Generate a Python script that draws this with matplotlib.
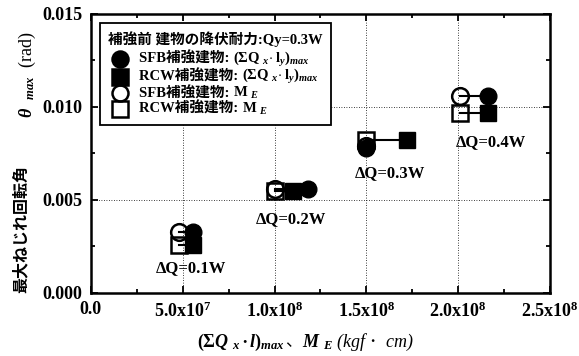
import numpy as np
import matplotlib
matplotlib.use('Agg')
import matplotlib.pyplot as plt
from matplotlib.ticker import MultipleLocator, FixedLocator
from matplotlib.offsetbox import AnchoredOffsetbox, VPacker, HPacker, TextArea, DrawingArea
from matplotlib.lines import Line2D

plt.rcParams['mathtext.fontset'] = 'custom'
plt.rcParams['mathtext.rm'] = 'Liberation Serif:bold'
plt.rcParams['mathtext.it'] = 'Liberation Serif:italic:bold'
plt.rcParams['mathtext.bf'] = 'Liberation Serif:bold'

FAM = ['Liberation Serif', 'Noto Sans CJK JP']
SERIF = ['Liberation Serif']

# data
dq_labels = ['ΔQ=0.1W', 'ΔQ=0.2W', 'ΔQ=0.3W', 'ΔQ=0.4W']
sfb_max_x = [5.56e7, 1.18e8, 1.50e8, 2.16e8]
sfb_max_y = [0.0033, 0.0056, 0.0078, 0.0106]
rcw_max_x = [5.56e7, 1.10e8, 1.72e8, 2.16e8]
rcw_max_y = [0.0026, 0.0055, 0.0082, 0.0097]
sfb_me_x = [4.80e7, 1.00e8, 1.50e8, 2.01e8]
sfb_me_y = [0.0033, 0.0056, 0.0079, 0.0106]
rcw_me_x = [4.80e7, 1.00e8, 1.50e8, 2.01e8]
rcw_me_y = [0.0026, 0.0055, 0.0082, 0.0097]
dq_label_x = [5.45e7, 1.09e8, 1.63e8, 2.18e8]
dq_label_y = [0.00134, 0.00398, 0.00645, 0.00812]

x_ticks = [0, 5e7, 1e8, 1.5e8, 2e8, 2.5e8]
x_ticklabels = ['0.0', '5.0x10$^7$', '1.0x10$^8$', '1.5x10$^8$', '2.0x10$^8$', '2.5x10$^8$']
y_ticks = [0.0, 0.005, 0.010, 0.015]
y_ticklabels = ['0.000', '0.005', '0.010', '0.015']

legend_title = '補強前 建物の降伏耐力:Qy=0.3W'
legend_prefix = ['SFB補強建物: ', 'RCW補強建物: ', 'SFB補強建物: ', 'RCW補強建物: ']
legend_math = ['(ΣQ $_{x}$$\\cdot$ l$_{y}$)$_{max}$', '(ΣQ $_{x}$$\\cdot$ l$_{y}$)$_{max}$',
               'M $_{E}$', 'M $_{E}$']
legend_marker = ['o', 's', 'o', 's']
legend_filled = [True, True, False, False]

fig = plt.figure(figsize=(5.79, 3.56), dpi=100)
ax = fig.add_axes([0.157, 0.177, 0.793, 0.784])

# connecting lines ME -> max
for i in range(len(dq_labels)):
    ax.plot([sfb_me_x[i], sfb_max_x[i]], [sfb_me_y[i], sfb_max_y[i]], color='black', lw=1.5, zorder=2)
    ax.plot([rcw_me_x[i], rcw_max_x[i]], [rcw_me_y[i], rcw_max_y[i]], color='black', lw=1.5, zorder=2)

ms = 12
ax.plot(sfb_max_x, sfb_max_y, 'o', ms=ms, color='black', ls='none', zorder=3)
ax.plot(rcw_max_x, rcw_max_y, 's', ms=ms, color='black', ls='none', zorder=3)
ax.plot(sfb_me_x, sfb_me_y, 'o', ms=ms, mfc='none', mec='black', mew=1.8, ls='none', zorder=4)
ax.plot(rcw_me_x, rcw_me_y, 's', ms=ms, mfc='none', mec='black', mew=1.8, ls='none', zorder=4)

for i in range(len(dq_labels)):
    ax.text(dq_label_x[i], dq_label_y[i], dq_labels[i], ha='center', va='center',
            family=FAM, fontweight='bold', fontsize=12)

ax.set_xlim(0, 2.5e8)
ax.set_ylim(0, 0.015)
ax.xaxis.set_major_locator(FixedLocator(x_ticks))
ax.set_xticklabels(x_ticklabels)
ax.xaxis.set_minor_locator(MultipleLocator(2.5e7))
ax.yaxis.set_major_locator(FixedLocator(y_ticks))
ax.set_yticklabels(y_ticklabels)
ax.yaxis.set_minor_locator(MultipleLocator(0.0025))
for lab in ax.get_xticklabels() + ax.get_yticklabels():
    lab.set_family(FAM)
    lab.set_fontweight('bold')
    lab.set_fontsize(13)
ax.tick_params(which='both', direction='in', top=True, right=True, width=1.3)
ax.tick_params(which='major', length=5, pad=6)
ax.tick_params(which='minor', length=3)
for s in ax.spines.values():
    s.set_linewidth(1.8)
ax.grid(True, which='major', ls=(0, (1, 2)), color='black', lw=0.6)
ax.set_axisbelow(True)

# y label: japanese part + symbol part
t1 = fig.text(22 / 579, (356 - 293) / 356, '最大ねじれ回転角', rotation=90, ha='center', va='bottom',
              family=FAM, fontweight='bold', fontsize=11.5)
ax.annotate('$\\theta\\ \\ _{max}$  (rad)', xy=(0.5, 1), xycoords=t1, xytext=(4, 34),
            textcoords='offset points', rotation=90, ha='center', va='bottom', family=SERIF, fontsize=13)

# x label
tp_it = dict(family=SERIF, style='italic', size=13)
tp_jp = dict(family=FAM, size=12)
xl = HPacker(children=[TextArea('$(\\Sigma Q\\ _{x}\\bullet l)_{max}$', textprops=tp_it),
                       TextArea('、', textprops=tp_jp),
                       TextArea('$M\\ _{E}$ (kgf', textprops=tp_it),
                       TextArea('･', textprops=tp_jp),
                       TextArea('  cm)', textprops=tp_it)],
             align='baseline', pad=0, sep=0)
fig.add_artist(AnchoredOffsetbox(loc='center', child=xl, pad=0, borderpad=0, frameon=False,
                                 bbox_to_anchor=(305 / 579, 1 - 342 / 356),
                                 bbox_transform=fig.transFigure))

# legend built by hand so japanese and math text can sit together
tp_leg = dict(family=FAM, weight='bold', size=10.5)
tp_leg_m = dict(family=SERIF, weight='bold', size=10.5)
rows = []
for i in range(len(legend_prefix)):
    da = DrawingArea(16, 12, 0, 0)
    da.add_artist(Line2D([8], [6], marker=legend_marker[i], ms=11.5, ls='none',
                         mfc='black' if legend_filled[i] else 'none', mec='black', mew=1.8))
    txt = HPacker(children=[TextArea(legend_prefix[i], textprops=tp_leg),
                            TextArea(legend_math[i], textprops=tp_leg_m)],
                  align='baseline', pad=0, sep=0)
    rows.append(HPacker(children=[da, txt], align='center', pad=0, sep=6))
box = VPacker(children=[TextArea(legend_title, textprops=tp_leg),
                        VPacker(children=rows, align='left', pad=0, sep=-1)],
              align='left', pad=0, sep=2)
leg = AnchoredOffsetbox(loc='upper left', child=box, pad=0.6, borderpad=0, frameon=True,
                        bbox_to_anchor=(0.02, 0.968), bbox_transform=ax.transAxes)
leg.patch.set_boxstyle('square', pad=0)
leg.patch.set_edgecolor('black')
leg.patch.set_linewidth(1.3)
leg.set_zorder(5)
ax.add_artist(leg)

fig.savefig('out.png', dpi=100)
